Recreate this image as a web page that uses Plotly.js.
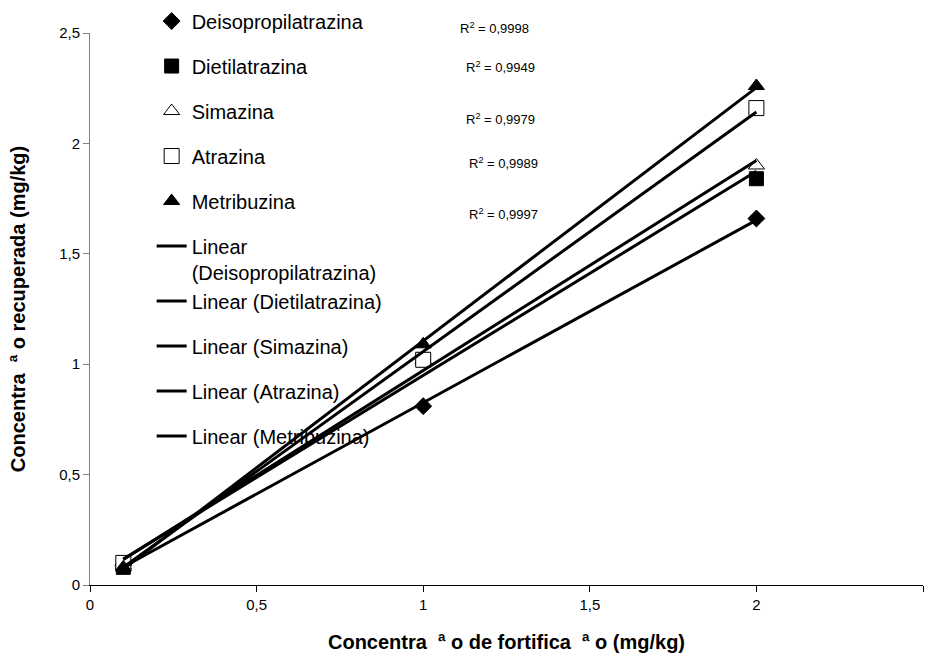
<!DOCTYPE html>
<html>
<head>
<meta charset="utf-8">
<script src="https://cdn.plot.ly/plotly-3.0.1.min.js"></script>
<style>html,body{margin:0;padding:0;background:#fff;}#chart{width:930px;height:661px;}</style>
</head>
<body>
<div id="chart"></div>
<script>
// ---- data ----
var xVals = [0.1, 1, 2];
var seriesNames = ["Deisopropilatrazina", "Dietilatrazina", "Simazina", "Atrazina", "Metribuzina"];
var deisopropilatrazina = [0.09, 0.81, 1.66];
var dietilatrazina = [0.08, 1.02, 1.84];
var simazina = [0.09, 1.02, 1.90];
var atrazina = [0.10, 1.02, 2.16];
var metribuzina = [0.08, 1.09, 2.26];
var r2Labels = ["0,9998", "0,9949", "0,9979", "0,9989", "0,9997"];
var xTicks = [0, 0.5, 1, 1.5, 2, 2.5];
var yTicks = [0, 0.5, 1, 1.5, 2, 2.5];

// label placement (paper fractions)
var r2Pos = [[0.442, 1.009], [0.449, 0.938], [0.449, 0.845], [0.453, 0.764], [0.453, 0.673]];

var allSeries = [deisopropilatrazina, dietilatrazina, simazina, atrazina, metribuzina];
var markerStyles = [
  {symbol: "diamond", size: 13, color: "#000", line: {color: "#000", width: 1}},
  {symbol: "square", size: 14, color: "#000", line: {color: "#000", width: 1}},
  {symbol: "triangle-up", size: 14, color: "#fff", line: {color: "#000", width: 1}},
  {symbol: "square", size: 15, color: "#fff", line: {color: "#000", width: 1}},
  {symbol: "triangle-up", size: 14, color: "#000", line: {color: "#000", width: 1}}
];
var lineGroups = ["l01", "l01", "l2", "l3", "l4"];

function linFit(xs, ys) {
  var n = xs.length, sx = 0, sy = 0, sxx = 0, sxy = 0;
  for (var i = 0; i < n; i++) { sx += xs[i]; sy += ys[i]; sxx += xs[i]*xs[i]; sxy += xs[i]*ys[i]; }
  var b = (n*sxy - sx*sy) / (n*sxx - sx*sx);
  var a = (sy - b*sx) / n;
  return function(x) { return a + b*x; };
}

var traces = [];
var xMin = Math.min.apply(null, xVals), xMax = Math.max.apply(null, xVals);
for (var j = 0; j < allSeries.length; j++) {
  traces.push({
    type: "scatter", mode: "markers", x: xVals, y: allSeries[j],
    name: seriesNames[j], legendgroup: "m" + j, legendrank: 1 + j,
    marker: markerStyles[j], cliponaxis: false
  });
}
for (var i = 0; i < allSeries.length; i++) {
  var f = linFit(xVals, allSeries[i]);
  var nm = (i === 0) ? "Linear<br>(" + seriesNames[i] + ")" : "Linear (" + seriesNames[i] + ")";
  traces.push({
    type: "scatter", mode: "lines", x: [xMin, xMax], y: [f(xMin), f(xMax)],
    name: nm, legendgroup: lineGroups[i], legendrank: 6 + i,
    line: {color: "#000", width: 3}, hoverinfo: "skip"
  });
}

var annotations = [];
for (var k = 0; k < r2Labels.length; k++) {
  annotations.push({
    x: r2Pos[k][0], y: r2Pos[k][1], xref: "paper", yref: "paper", xanchor: "left", yanchor: "middle",
    text: "R<sup>2</sup> = " + r2Labels[k], showarrow: false,
    font: {family: "Liberation Sans, Arial, sans-serif", size: 13, color: "#000"}
  });
}

var layout = {
  width: 930, height: 661,
  margin: {l: 90, r: 7, t: 33, b: 76, autoexpand: false},
  paper_bgcolor: "#fff", plot_bgcolor: "#fff",
  separators: ", ",
  font: {family: "Liberation Sans, Arial, sans-serif", size: 15, color: "#000"},
  showlegend: true,
  legend: {
    x: 0.074, y: 1.057, xanchor: "left", yanchor: "top",
    traceorder: "grouped", tracegroupgap: 16, valign: "top", maxheight: 661,
    bgcolor: "rgba(0,0,0,0)", font: {size: 20, color: "#000"}
  },
  xaxis: {
    range: [0, 2.5], tickvals: xTicks, ticks: "outside", ticklen: 6, tickcolor: "#000",
    showline: true, linecolor: "#000", linewidth: 1, showgrid: false, zeroline: false,
    tickfont: {size: 15}, fixedrange: true, automargin: false,
    title: {text: "Concentra&nbsp;&nbsp;ª o de fortifica&nbsp;&nbsp;ª o (mg/kg)", font: {size: 20, color: "#000", weight: "bold"}, standoff: 22}
  },
  yaxis: {
    range: [0, 2.5], tickvals: yTicks, ticks: "outside", ticklen: 6, tickcolor: "#808080",
    showline: true, linecolor: "#808080", linewidth: 1, showgrid: false, zeroline: false,
    tickfont: {size: 15}, fixedrange: true, automargin: false,
    title: {text: "Concentra&nbsp;&nbsp;ª o recuperada (mg/kg)", font: {size: 20, color: "#000", weight: "bold"}, standoff: 28}
  },
  annotations: annotations
};

Plotly.newPlot("chart", traces, layout, {displayModeBar: false, staticPlot: true});
</script>
</body>
</html>
